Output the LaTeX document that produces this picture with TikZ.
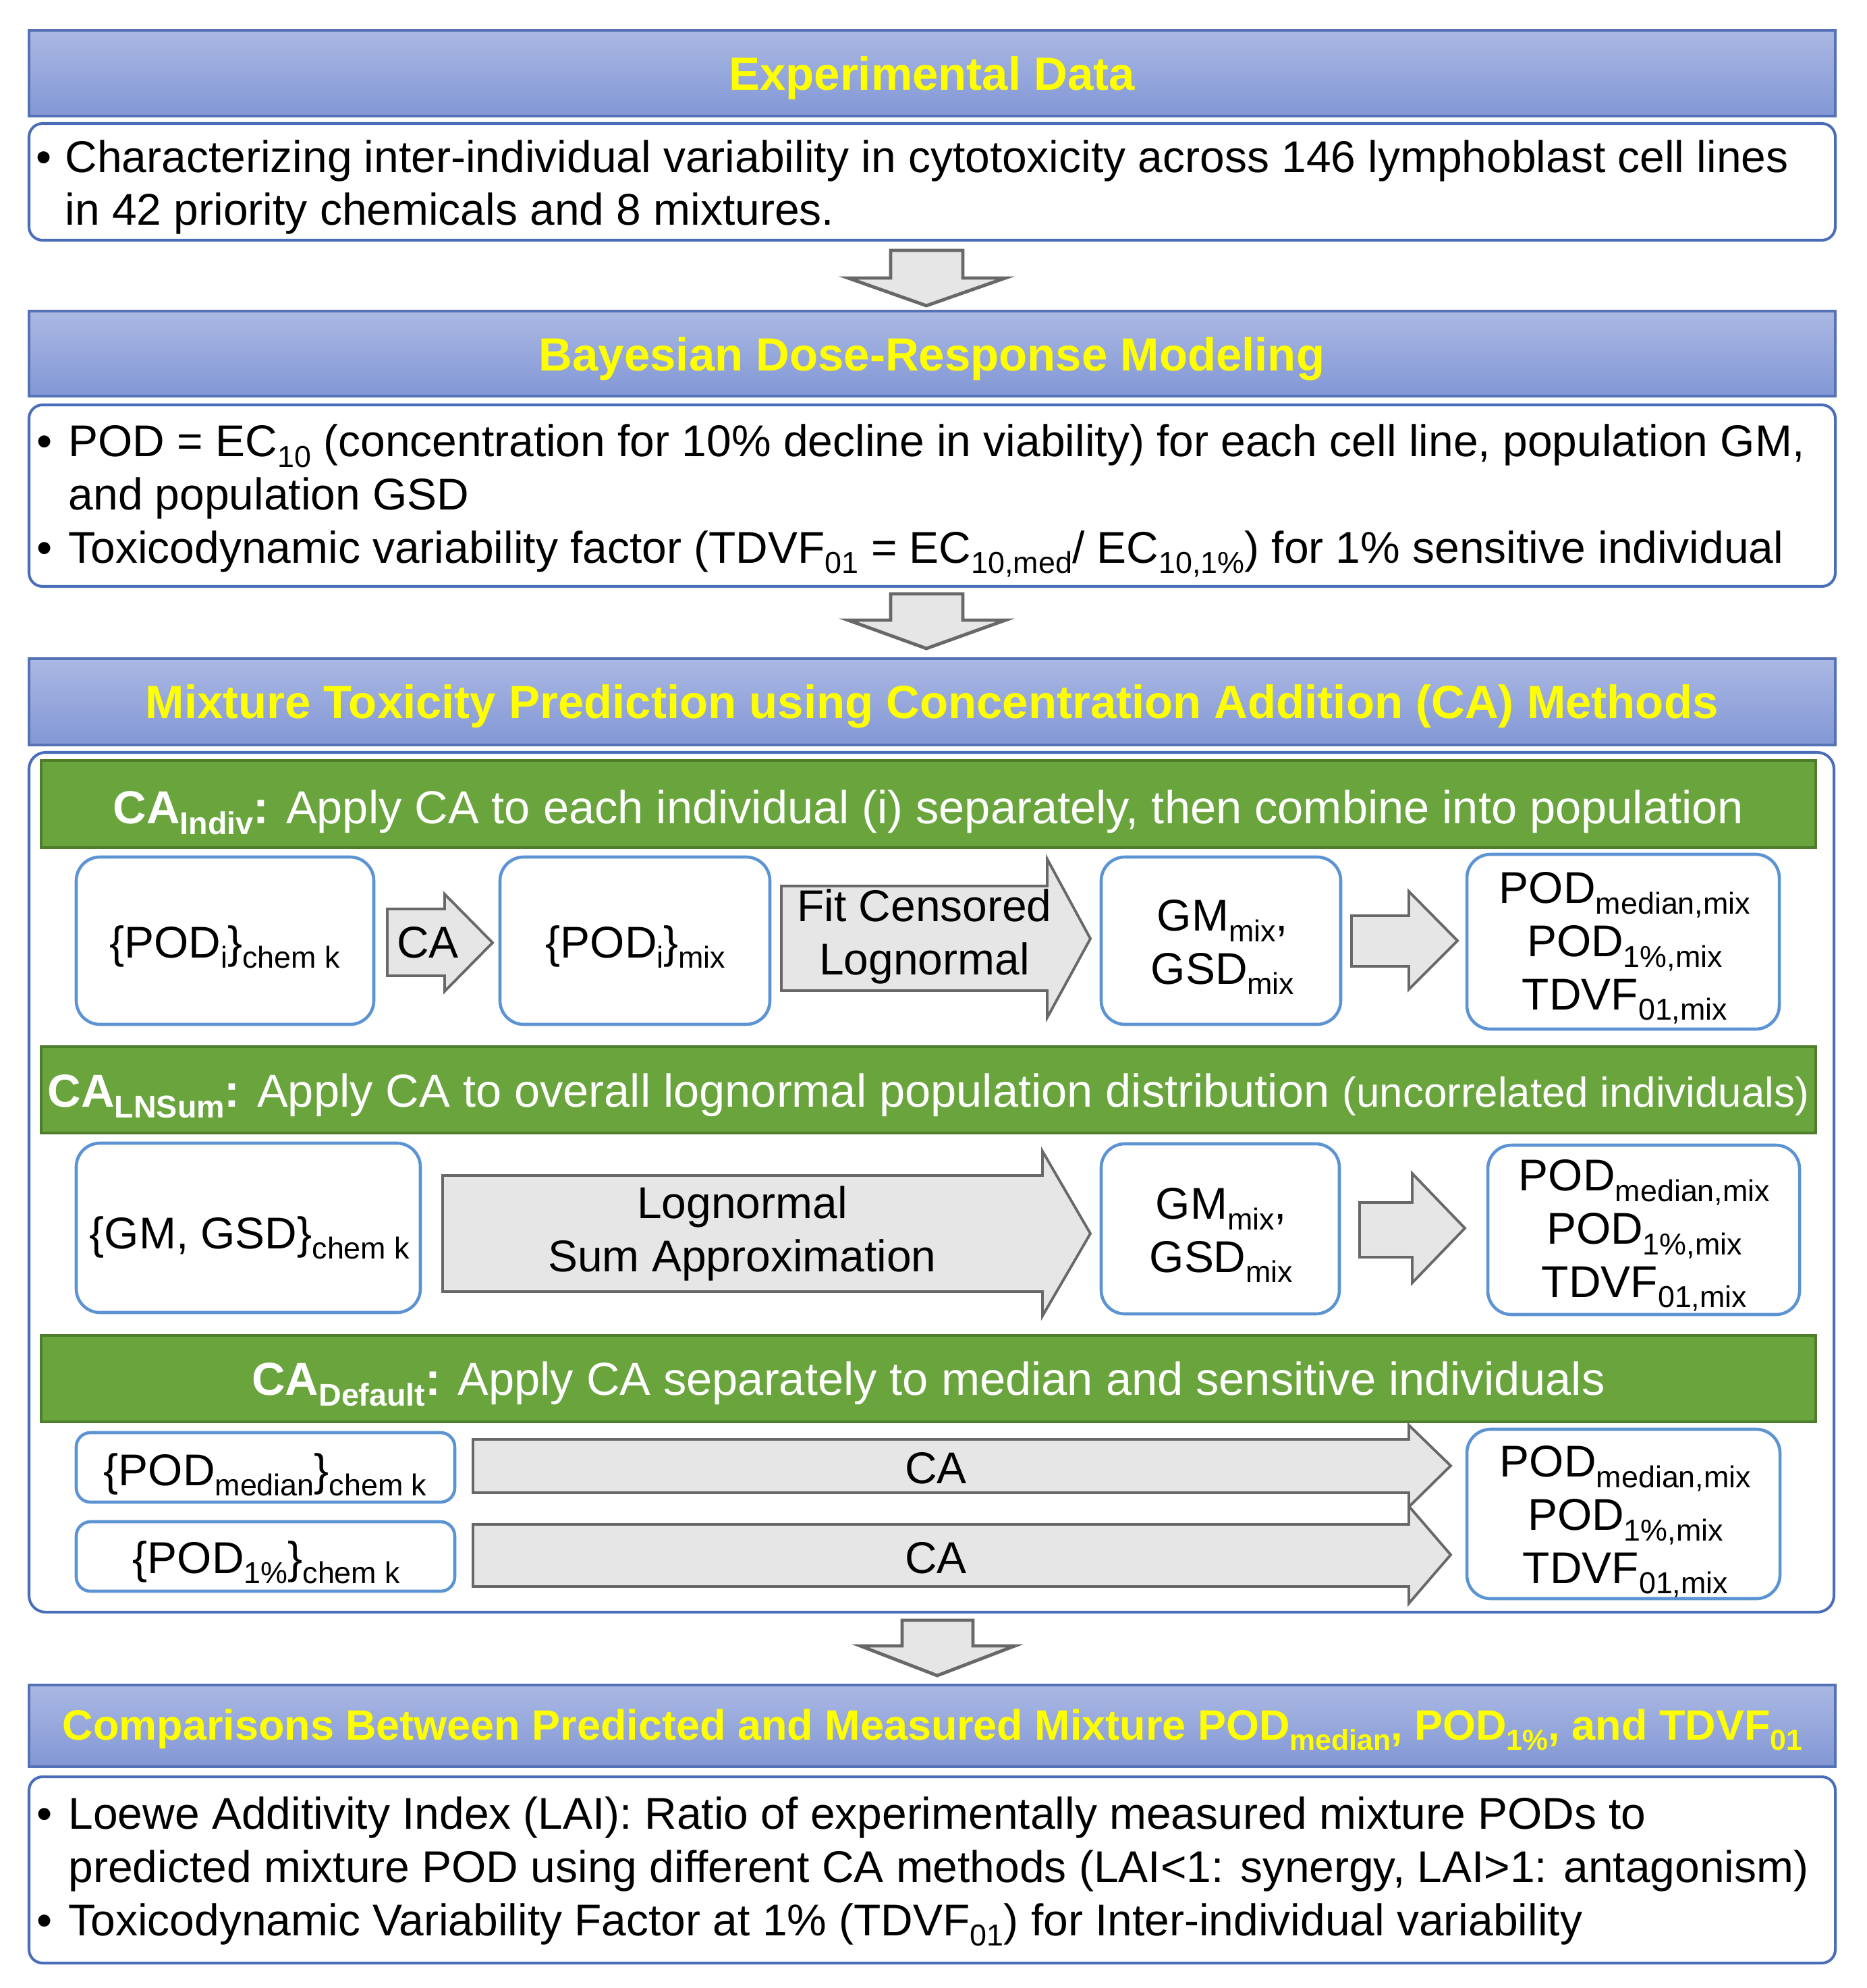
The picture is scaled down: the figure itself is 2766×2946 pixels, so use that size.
\documentclass[tikz,border=0pt]{standalone}
\usepackage{fontspec}
\setmainfont{Liberation Sans}
\usepackage{graphicx}
\usetikzlibrary{fit}

\definecolor{hdrtop}{HTML}{AAB8E3}
\definecolor{hdrbot}{HTML}{8297D5}
\definecolor{hdrline}{HTML}{5672B6}
\definecolor{boxline}{HTML}{4A6DB9}
\definecolor{grnfill}{HTML}{69A43D}
\definecolor{grnline}{HTML}{4E7E2C}
\definecolor{smline}{HTML}{5B93D3}
\definecolor{arrfill}{HTML}{E6E6E6}
\definecolor{arrline}{HTML}{686868}
\definecolor{ttlyellow}{HTML}{FFFF00}

\newcommand{\sbs}[1]{\raisebox{-0.24em}{\scalebox{0.68}{#1}}}
\newcommand{\bodyfnt}{\fontsize{18.75}{22.4}\selectfont}
\newcommand{\hdrfnt}{\fontsize{19.6}{23}\selectfont\bfseries}
\newcommand{\grnfnt}{\fontsize{19.5}{23}\selectfont}

\begin{document}
\begin{tikzpicture}[x=0.01cm,y=-0.01cm,
  hdr/.style={draw=hdrline, line width=0.9pt, top color=hdrtop, bottom color=hdrbot, inner sep=0pt},
  bigbox/.style={draw=boxline, line width=1.15pt, fill=white, rounded corners=5.7pt, inner sep=0pt},
  grn/.style={draw=grnline, line width=0.9pt, fill=grnfill, inner sep=0pt},
  smbox/.style={draw=smline, line width=1.3pt, fill=white, rounded corners=10pt, inner sep=0pt},
  thinbox/.style={draw=smline, line width=1.3pt, fill=white, rounded corners=6pt, inner sep=0pt},
  blockarr/.style={draw=arrline, line width=1.4pt, fill=arrfill, line join=miter},
  rowarr/.style={draw=arrline, line width=1.1pt, fill=arrfill, line join=miter},
  htxt/.style={inner sep=0pt, anchor=base, font=\hdrfnt, text=ttlyellow},
  gtxt/.style={inner sep=0pt, anchor=base, font=\grnfnt, text=white},
  btxt/.style={inner sep=0pt, anchor=base west, align=left, font=\bodyfnt},
  ctxt/.style={inner sep=0pt, anchor=base, align=center, font=\bodyfnt}]

\fill[white] (0,0) rectangle (2766,2946);
\useasboundingbox (0,0) rectangle (2766,2946);

% ---------- headers and main boxes ----------
\node[hdr, fit={(43,45) (2720,172)}] (h1) {};
\node[bigbox, fit={(43,183) (2720,356)}] (b1) {};
\node[hdr, fit={(43,461) (2720,587)}] (h2) {};
\node[bigbox, fit={(43,600) (2720,869)}] (b2) {};
\node[hdr, fit={(43,976) (2720,1104)}] (h3) {};
\node[bigbox, rounded corners=7pt, fit={(43,1115) (2718,2389)}] (bo) {};
\node[hdr, fit={(43,2497) (2720,2618)}] (h4) {};
\node[bigbox, fit={(43,2633) (2720,2909)}] (b4) {};

\node[htxt] (h1t) at (1381,134) {Experimental Data};
\node[htxt] (h2t) at (1381,550) {Bayesian Dose-Response Modeling};
\node[htxt] (h3t) at (1381,1064) {Mixture Toxicity Prediction using Concentration Addition (CA) Methods};
\node[htxt, font=\fontsize{17.9}{22}\selectfont\bfseries] (h4t) at (1382,2578) {Comparisons Between Predicted and Measured Mixture POD\sbs{median}, POD\sbs{1\%}, and TDVF\sbs{01}};

% multi-line nodes: the base anchor is the baseline of the LAST line
\node[btxt] (b1t) at (96,334) {\llap{\textbullet\hspace{5.7pt}}Characterizing inter-individual variability in cytotoxicity across 146 lymphoblast cell lines\\in 42 priority chemicals and 8 mixtures.};
\node[btxt] (b2t) at (101,834) {\llap{\textbullet\hspace{7pt}}POD = EC\sbs{10} (concentration for 10\% decline in viability) for each cell line, population GM,\\and population GSD\\\llap{\textbullet\hspace{7pt}}Toxicodynamic variability factor (TDVF\sbs{01} = EC\sbs{10,med}/ EC\sbs{10,1\%}) for 1\% sensitive individual};
\node[btxt] (b4t) at (101,2868) {\llap{\textbullet\hspace{7pt}}Loewe Additivity Index (LAI): Ratio of experimentally measured mixture PODs to\\predicted mixture POD using different CA methods (LAI<1: synergy, LAI>1: antagonism)\\\llap{\textbullet\hspace{7pt}}Toxicodynamic Variability Factor at 1\% (TDVF\sbs{01}) for Inter-individual variability};

% ---------- down arrows ----------
\draw[blockarr] (1320,371) -- (1427,371) -- (1427,412) -- (1490,412) -- (1373,453) -- (1257,412) -- (1320,412) -- cycle;
\draw[blockarr] (1320,880) -- (1427,880) -- (1427,919) -- (1490,919) -- (1373,961) -- (1257,919) -- (1320,919) -- cycle;
\draw[blockarr] (1337,2401) -- (1442,2401) -- (1442,2439) -- (1504,2439) -- (1389,2483) -- (1275,2439) -- (1337,2439) -- cycle;

% ---------- green bars ----------
\node[grn, fit={(61,1127) (2691,1256)}] (g1) {};
\node[grn, fit={(61,1551) (2691,1679)}] (g2) {};
\node[grn, fit={(61,1979) (2691,2107)}] (g3) {};
\node[gtxt] (g1t) at (1376,1220) {\textbf{CA\sbs{Indiv}:} Apply CA to each individual (i) separately, then combine into population};
\node[gtxt] (g2t) at (1376,1640) {\textbf{CA\sbs{LNSum}:} Apply CA to overall lognormal population distribution {\fontsize{17.6}{20}\selectfont(uncorrelated individuals)}};
\node[gtxt] (g3t) at (1376,2067) {\textbf{CA\sbs{Default}:} Apply CA separately to median and sensitive individuals};

% ---------- row 1: CA_Indiv ----------
\node[smbox, fit={(113,1270) (554,1518)}] (sA) {};
\node[smbox, fit={(741,1270) (1141,1518)}] (sB) {};
\node[smbox, fit={(1632,1270) (1987,1518)}] (sD) {};
\node[smbox, fit={(2174,1266) (2637,1525)}] (sE) {};
\draw[rowarr] (574,1347) -- (659,1347) -- (659,1325) -- (730,1397) -- (659,1469) -- (659,1446) -- (574,1446) -- cycle;
\draw[rowarr] (1158,1313) -- (1552,1313) -- (1552,1273) -- (1616,1391) -- (1552,1508) -- (1552,1468) -- (1158,1468) -- cycle;
\draw[rowarr] (2003,1357) -- (2088,1357) -- (2088,1321) -- (2160,1394) -- (2088,1466) -- (2088,1432) -- (2003,1432) -- cycle;
\node[ctxt] (sAt) at (333,1419) {\{POD\sbs{i}\}\sbs{chem k}};
\node[ctxt] (a1t) at (634,1419) {CA};
\node[ctxt] (sBt) at (942,1419) {\{POD\sbs{i}\}\sbs{mix}};
\node[ctxt] (a2t) at (1370,1444) {Fit Censored\\Lognormal};
\node[ctxt] (sDt) at (1812,1458) {GM\sbs{mix},\\GSD\sbs{mix}};
\node[ctxt] (sEt) at (2408,1496) {POD\sbs{median,mix}\\POD\sbs{1\%,mix}\\TDVF\sbs{01,mix}};

% ---------- row 2: CA_LNSum ----------
\node[smbox, fit={(113,1694) (623,1945)}] (sC) {};
\node[smbox, fit={(1632,1695) (1985,1947)}] (sF) {};
\node[smbox, fit={(2205,1697) (2667,1948)}] (sG) {};
\draw[rowarr] (656,1742) -- (1545,1742) -- (1545,1706) -- (1616,1828) -- (1545,1950) -- (1545,1914) -- (656,1914) -- cycle;
\draw[rowarr] (2015,1782) -- (2093,1782) -- (2093,1739) -- (2171,1820) -- (2093,1901) -- (2093,1863) -- (2015,1863) -- cycle;
\node[ctxt] (sCt) at (370,1850) {\{GM, GSD\}\sbs{chem k}};
\node[ctxt] (a3t) at (1100,1884) {Lognormal\\Sum Approximation};
\node[ctxt] (sFt) at (1810,1885) {GM\sbs{mix},\\GSD\sbs{mix}};
\node[ctxt] (sGt) at (2437,1922) {POD\sbs{median,mix}\\POD\sbs{1\%,mix}\\TDVF\sbs{01,mix}};

% ---------- row 3: CA_Default ----------
\node[thinbox, fit={(113,2123) (674,2226)}] (sH) {};
\node[thinbox, fit={(113,2255) (674,2358)}] (sI) {};
\node[smbox, fit={(2174,2118) (2638,2369)}] (sK) {};
\draw[rowarr] (701,2133) -- (2088,2133) -- (2088,2112) -- (2150,2172) -- (2088,2233) -- (2088,2212) -- (701,2212) -- cycle;
\draw[rowarr] (701,2259) -- (2088,2259) -- (2088,2232) -- (2150,2304) -- (2088,2376) -- (2088,2351) -- (701,2351) -- cycle;
\node[ctxt] (sHt) at (393,2201) {\{POD\sbs{median}\}\sbs{chem k}};
\node[ctxt] (sIt) at (395,2331) {\{POD\sbs{1\%}\}\sbs{chem k}};
\node[ctxt] (a4t) at (1387,2198) {CA};
\node[ctxt] (a5t) at (1387,2331) {CA};
\node[ctxt] (sKt) at (2409,2346) {POD\sbs{median,mix}\\POD\sbs{1\%,mix}\\TDVF\sbs{01,mix}};

\end{tikzpicture}
\end{document}
